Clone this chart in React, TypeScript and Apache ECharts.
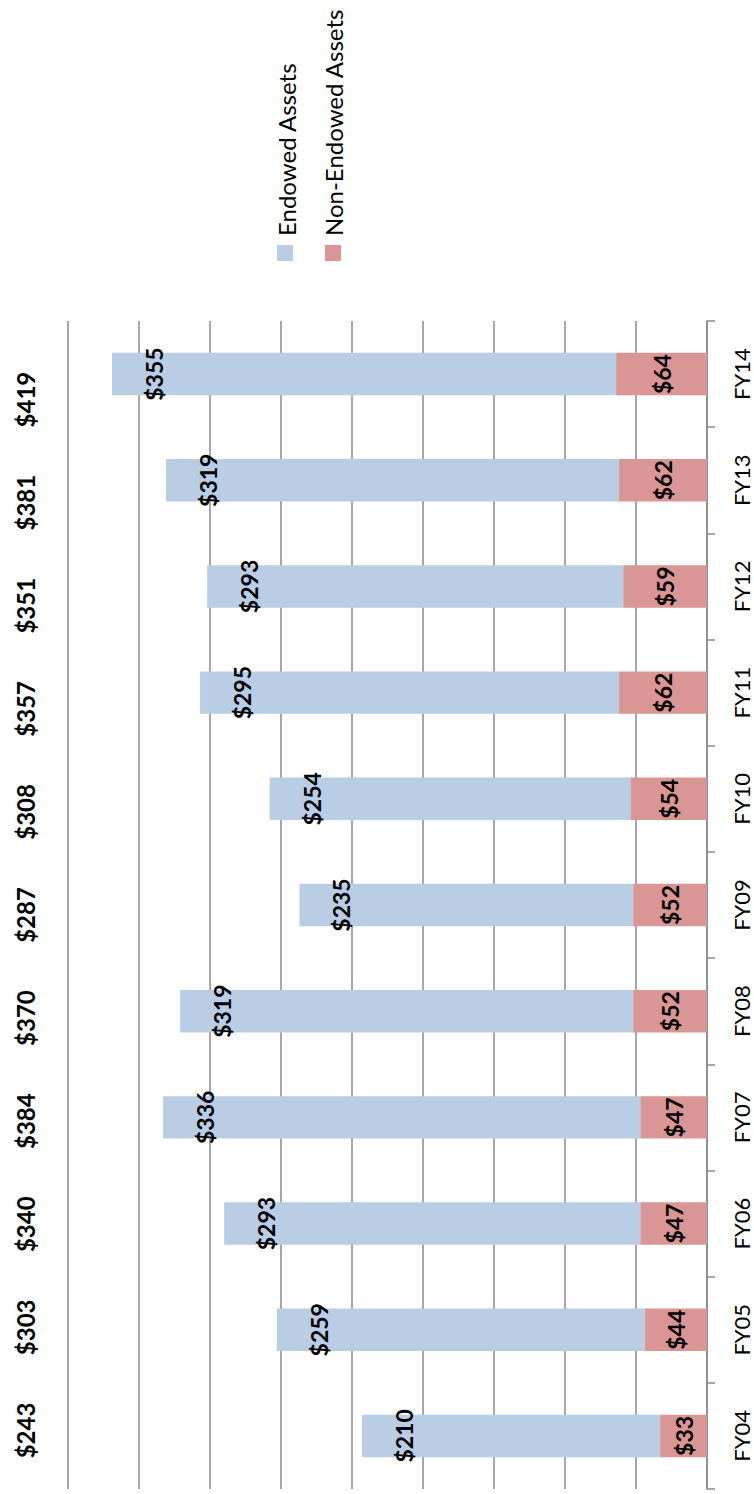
import React, { useEffect, useRef } from "react";
import * as echarts from "echarts";

const categories = ["FY04", "FY05", "FY06", "FY07", "FY08", "FY09", "FY10", "FY11", "FY12", "FY13", "FY14"];
const endowed = [210, 259, 293, 336, 319, 235, 254, 295, 293, 319, 355];
const nonEndowed = [33, 44, 47, 47, 52, 52, 54, 62, 59, 62, 64];
const totals = [243, 303, 340, 384, 370, 287, 308, 357, 351, 381, 419];
const seriesNames = ["Endowed Assets", "Non-Endowed Assets"];
const axisMax = 450;
const axisInterval = 50;

const BLUE = "#B9CDE5";
const RED = "#D99694";
const FONT = "Lato, 'Noto Sans', sans-serif";

export default function App() {
  const ref = useRef<HTMLDivElement>(null);
  useEffect(() => {
    document.body.style.margin = "0";
    const chart = echarts.init(ref.current!, null, { renderer: "svg" });
    const labelBase = {
      show: true,
      rotate: 90,
      color: "#000",
      fontWeight: "bold" as const,
      fontSize: 23,
      lineHeight: 22,
      fontFamily: FONT,
      align: "center" as const,
      verticalAlign: "middle" as const,
      formatter: (p: any) => "$" + p.value,
    };
    chart.setOption({
      animation: false,
      backgroundColor: "#fff",
      grid: [
        { left: 68, right: 47, top: 321, bottom: 5 },
        { left: 68, right: 47, top: 348, bottom: 12 },
      ],
      xAxis: [
        {
          type: "value",
          gridIndex: 0,
          inverse: true,
          min: 0,
          max: axisMax,
          interval: axisInterval,
          axisLabel: { show: false },
          axisLine: { show: false },
          axisTick: { show: false },
          splitLine: { show: true, lineStyle: { color: "#8A8A8A", width: 1.5 } },
        },
        { type: "value", gridIndex: 1, show: false, min: 0, max: axisMax },
      ],
      yAxis: [
        {
          type: "category",
          gridIndex: 0,
          position: "right",
          data: categories,
          axisLine: { show: true, lineStyle: { color: "#8A8A8A", width: 1.5 } },
          axisTick: { show: true, length: 8, lineStyle: { color: "#8A8A8A", width: 1.5 } },
          axisLabel: {
            rotate: 90,
            margin: 34,
            align: "center",
            verticalAlign: "middle",
            color: "#000",
            fontSize: 22,
            lineHeight: 20,
            fontFamily: FONT,
          },
        },
        {
          type: "category",
          gridIndex: 1,
          position: "left",
          data: totals.map((t) => "$" + t),
          axisLine: { show: false },
          axisTick: { show: false },
          axisLabel: {
            rotate: 90,
            margin: 43,
            align: "center",
            verticalAlign: "middle",
            color: "#000",
            fontWeight: "bold",
            fontSize: 24,
            lineHeight: 22,
            fontFamily: FONT,
          },
        },
      ],
      series: [
        {
          name: seriesNames[1],
          type: "bar",
          stack: "total",
          xAxisIndex: 0,
          yAxisIndex: 0,
          barWidth: "40%",
          itemStyle: { color: RED },
          label: { ...labelBase, position: "inside" },
          data: nonEndowed,
        },
        {
          name: seriesNames[0],
          type: "bar",
          stack: "total",
          xAxisIndex: 0,
          yAxisIndex: 0,
          barWidth: "40%",
          itemStyle: { color: BLUE },
          label: { ...labelBase, position: "insideLeft", distance: 42 },
          data: endowed,
        },
      ],
      graphic: [
        { type: "rect", shape: { x: 277, y: 245, width: 16, height: 16 }, style: { fill: BLUE } },
        {
          type: "text",
          x: 286,
          y: 236,
          rotation: Math.PI / 2,
          style: { text: seriesNames[0], fill: "#000", fontSize: 24, fontFamily: FONT, align: "left", verticalAlign: "middle" },
        },
        { type: "rect", shape: { x: 325, y: 245, width: 16, height: 16 }, style: { fill: RED } },
        {
          type: "text",
          x: 333,
          y: 236,
          rotation: Math.PI / 2,
          style: { text: seriesNames[1], fill: "#000", fontSize: 24, fontFamily: FONT, align: "left", verticalAlign: "middle" },
        },
      ],
    });
    return () => chart.dispose();
  }, []);
  return <div ref={ref} style={{ width: 754, height: 1494 }} />;
}
